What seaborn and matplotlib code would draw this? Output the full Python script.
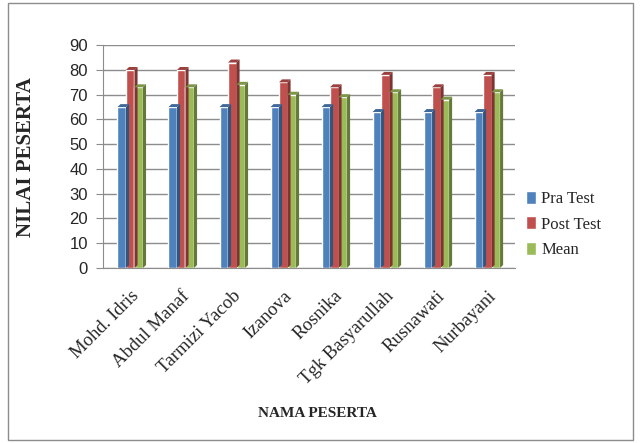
import pandas as pd
import numpy as np
import matplotlib
matplotlib.use('Agg')
import matplotlib.pyplot as plt
import matplotlib.transforms as mtransforms
import seaborn as sns
from matplotlib.patches import Rectangle, Polygon

# Chart data
names = ['Mohd. Idris', 'Abdul Manaf', 'Tarmizi Yacob', 'Izanova', 'Rosnika',
         'Tgk Basyarullah', 'Rusnawati', 'Nurbayani']
pra_test = [65, 65, 65, 65, 65, 63, 63, 63]
post_test = [80, 80, 83, 75, 73, 78, 73, 78]
mean_vals = [73, 73, 74, 70, 69, 71, 68, 71]
series = ['Pra Test', 'Post Test', 'Mean']
colors = ['#4F81BD', '#C0504D', '#9BBB59']
yticks = list(range(0, 100, 10))

df = pd.DataFrame({
    'nama': names * 3,
    'nilai': pra_test + post_test + mean_vals,
    'seri': [s for s in series for _ in names],
})

sns.set_style('white')
serif = ['Liberation Serif', 'DejaVu Serif']
sans = ['Liberation Sans', 'DejaVu Sans']

fig = plt.figure(figsize=(6.41, 4.43), dpi=100)
ax = fig.add_axes([0.161, 0.395, 0.643, 0.503])

sns.barplot(data=df, x='nama', y='nilai', hue='seri', palette=colors,
            saturation=1, width=0.5, ax=ax, legend=True, zorder=3)

ax.set_ylim(0, 90)
ax.set_xlim(-0.53, 7.55)

# fake 3D side/top faces, like the Excel chart
dx, dy = 0.06, 1.2
for bar in list(ax.patches):
    x0, w, h = bar.get_x(), bar.get_width(), bar.get_height()
    if h <= 0:
        continue
    fc = np.array(bar.get_facecolor()[:3])
    dark = tuple(fc * 0.65)
    mid = tuple(fc * 0.8)
    ax.add_patch(Polygon([(x0 + w, 0), (x0 + w + dx, dy), (x0 + w + dx, h + dy), (x0 + w, h)],
                         closed=True, facecolor=dark, edgecolor='none', zorder=3))
    ax.add_patch(Polygon([(x0, h), (x0 + dx, h + dy), (x0 + w + dx, h + dy), (x0 + w, h)],
                         closed=True, facecolor=mid, edgecolor='none', zorder=3))

ax.set_yticks(yticks)
ax.yaxis.grid(True, color='#8c8c8c', linewidth=1.0, zorder=0)
ax.set_axisbelow(True)

for s in ['top', 'right']:
    ax.spines[s].set_visible(False)
ax.spines['left'].set_color('#8c8c8c')
ax.spines['bottom'].set_color('#8c8c8c')
ax.tick_params(axis='y', left=True, length=5, color='#8c8c8c', labelsize=12, pad=6)
ax.tick_params(axis='x', bottom=False, pad=2)
for lbl in ax.get_yticklabels():
    lbl.set_family(sans)

ax.set_xticks(range(len(names)))
ax.set_xticklabels(names, rotation=45, ha='right', rotation_mode='anchor',
                   family=serif, fontsize=13.5)
# push the slanted labels down a little, as in the Excel 3D layout
shift = mtransforms.ScaledTranslation(0.0, -0.12, fig.dpi_scale_trans)
for lbl in ax.get_xticklabels():
    lbl.set_transform(lbl.get_transform() + shift)

ax.set_xlabel('NAMA PESERTA', family=serif, fontsize=11, fontweight='bold',
              labelpad=14)
ax.xaxis.label.set_x(0.52)
ax.set_ylabel('NILAI PESERTA', family=serif, fontsize=15, fontweight='bold',
              labelpad=24)

ax.legend(loc='center left', bbox_to_anchor=(0.99, 0.195), frameon=False,
          prop={'family': serif, 'size': 12}, handlelength=0.6,
          handleheight=0.8, handletextpad=0.3, labelspacing=0.55)

# outer chart border
fig.patches.append(Rectangle((0.012, 0.007), 0.976, 0.986, transform=fig.transFigure,
                             fill=False, edgecolor='#8c8c8c', linewidth=1.0))

fig.savefig('out.png', dpi=100)
